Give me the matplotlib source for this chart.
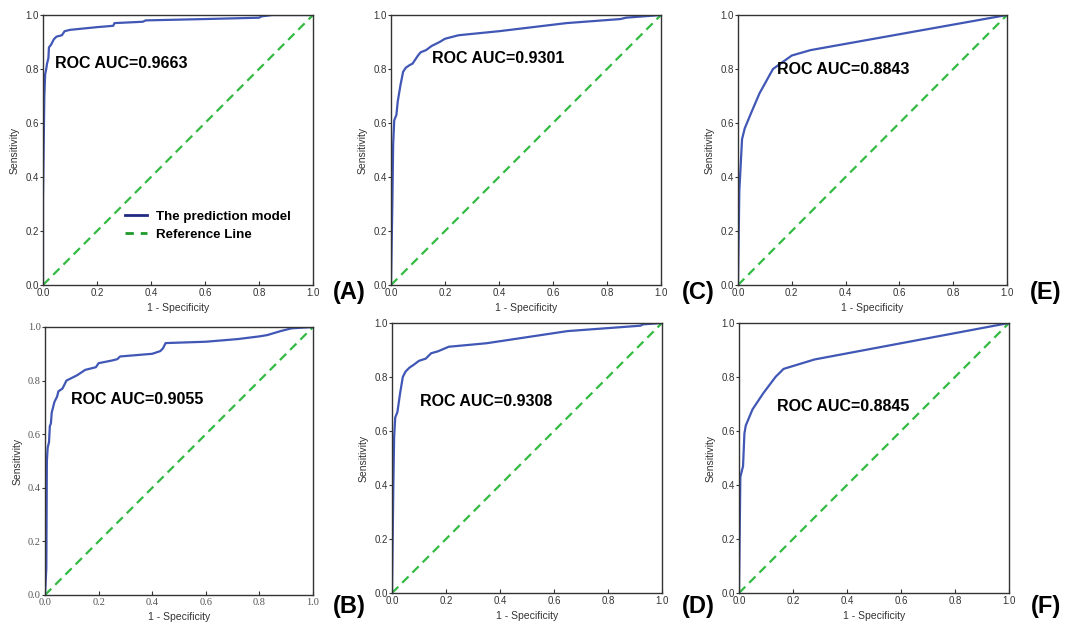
"""
ROC curves, 2 x 3 panels
"""

import matplotlib
matplotlib.use('Agg')
import matplotlib.pyplot as plt
from matplotlib.lines import Line2D

plt.rcParams['font.family'] = ['Liberation Sans', 'DejaVu Sans']

# panel (A)
fpr_a = [0, 0, 0.003, 0.005, 0.008, 0.012, 0.015, 0.02, 0.022, 0.03, 0.04, 0.05, 0.07,
         0.08, 0.1, 0.15, 0.2, 0.26, 0.265, 0.37, 0.38, 0.6, 0.8, 0.81, 0.85, 1.0]
tpr_a = [0, 0.32, 0.55, 0.70, 0.78, 0.80, 0.82, 0.84, 0.88, 0.89, 0.91, 0.92, 0.925,
         0.94, 0.945, 0.95, 0.955, 0.96, 0.97, 0.975, 0.98, 0.985, 0.99, 0.995, 1.0, 1.0]
# panel (B)
fpr_b = [0, 0.005, 0.007, 0.01, 0.015, 0.018, 0.022, 0.025, 0.03, 0.035, 0.045, 0.05,
         0.065, 0.075, 0.08, 0.1, 0.12, 0.15, 0.19, 0.2, 0.25, 0.27, 0.28, 0.4, 0.43,
         0.44, 0.45, 0.6, 0.72, 0.8, 0.83, 0.88, 0.92, 1.0]
tpr_b = [0, 0.10, 0.50, 0.55, 0.57, 0.63, 0.64, 0.68, 0.70, 0.72, 0.74, 0.76,
         0.77, 0.79, 0.80, 0.81, 0.82, 0.84, 0.85, 0.865, 0.875, 0.88, 0.89, 0.90, 0.91,
         0.92, 0.94, 0.945, 0.955, 0.965, 0.97, 0.985, 0.995, 1.0]
# panel (C)
fpr_c = [0, 0.005, 0.008, 0.012, 0.02, 0.025, 0.035, 0.045, 0.055, 0.07, 0.08, 0.1,
         0.11, 0.13, 0.15, 0.18, 0.2, 0.25, 0.4, 0.65, 0.85, 0.87, 1.0]
tpr_c = [0, 0.30, 0.52, 0.61, 0.63, 0.68, 0.74, 0.79, 0.805, 0.815, 0.82, 0.85,
         0.862, 0.87, 0.885, 0.90, 0.912, 0.925, 0.94, 0.97, 0.985, 0.99, 1.0]
# panel (D)
fpr_d = [0, 0.005, 0.008, 0.012, 0.02, 0.03, 0.04, 0.05, 0.065, 0.08, 0.1, 0.125,
         0.145, 0.17, 0.21, 0.35, 0.45, 0.65, 0.92, 0.93, 1.0]
tpr_d = [0, 0.40, 0.58, 0.65, 0.67, 0.74, 0.80, 0.82, 0.835, 0.845, 0.86, 0.868,
         0.888, 0.895, 0.912, 0.925, 0.94, 0.97, 0.99, 0.995, 1.0]
# panel (E)
fpr_e = [0, 0.005, 0.015, 0.025, 0.05, 0.08, 0.13, 0.2, 0.27, 1.0]
tpr_e = [0, 0.35, 0.54, 0.58, 0.64, 0.71, 0.80, 0.85, 0.87, 1.0]
# panel (F)
fpr_f = [0, 0.005, 0.01, 0.015, 0.02, 0.025, 0.05, 0.09, 0.135, 0.165, 0.28, 1.0]
tpr_f = [0, 0.43, 0.45, 0.47, 0.59, 0.62, 0.68, 0.74, 0.80, 0.83, 0.865, 1.0]

auc_txt = ['ROC AUC=0.9663', 'ROC AUC=0.9301', 'ROC AUC=0.8843',
           'ROC AUC=0.9055', 'ROC AUC=0.9308', 'ROC AUC=0.8845']
letters = ['(A)', '(C)', '(E)', '(B)', '(D)', '(F)']
ticks = [0.0, 0.2, 0.4, 0.6, 0.8, 1.0]
tick_lbl = ['0.0', '0.2', '0.4', '0.6', '0.8', '1.0']

curves = [(fpr_a, tpr_a), (fpr_c, tpr_c), (fpr_e, tpr_e),
          (fpr_b, tpr_b), (fpr_d, tpr_d), (fpr_f, tpr_f)]

W, H = 1067, 625
# axes boxes in pixels: left, top, right, bottom
boxes = [(43, 15, 313, 285), (391, 15, 661, 285), (738, 15, 1007, 285),
         (45, 327, 313, 595), (392, 323, 662, 593), (739, 323, 1009, 593)]
text_pos = [(0.045, 0.82), (0.152, 0.84), (0.145, 0.80),
            (0.097, 0.73), (0.104, 0.71), (0.14, 0.69)]
letter_pos = [(333, 292), (682, 292), (1030, 292), (333, 607), (682, 607), (1031, 607)]

blue = '#4157b5'
green = '#33bb44'

fig = plt.figure(figsize=(W / 100, H / 100), dpi=100)

for i in range(6):
    l, t, r, b = boxes[i]
    ax = fig.add_axes([l / W, 1 - b / H, (r - l) / W, (b - t) / H])
    fpr, tpr = curves[i]
    ax.plot([0, 1], [0, 1], '--', color=green, lw=1.6, dashes=(4, 2.5))
    ax.plot(fpr, tpr, color=blue, lw=1.6)
    ax.set_xlim(0, 1)
    ax.set_ylim(0, 1)
    ax.set_xticks(ticks)
    ax.set_yticks(ticks)
    serif = (i == 3)  # bottom-left panel has serif tick labels
    tfont = {'family': 'Liberation Serif', 'size': 7.5, 'color': '#555555'} if serif \
        else {'size': 7, 'color': '#333333'}
    ax.set_xticklabels(tick_lbl, **tfont)
    ax.set_yticklabels(tick_lbl, **tfont)
    ax.tick_params(axis='x', direction='in', length=3, width=0.8, pad=2, color='#333333')
    ax.tick_params(axis='y', direction='out', length=2, width=0.8, pad=1, color='#333333')
    for s in ax.spines.values():
        s.set_color('#333333')
        s.set_linewidth(1.0)
    ax.set_xlabel('1 - Specificity', fontsize=7.5, color='#333333', labelpad=4)
    ax.set_ylabel('Sensitivity', fontsize=7.5, color='#333333', labelpad=4)
    ax.text(text_pos[i][0], text_pos[i][1], auc_txt[i], transform=ax.transAxes,
            fontsize=11.5, fontweight='bold', va='center', ha='left')
    if i == 0:
        handles = [Line2D([], [], color='#1f2a80', lw=2),
                   Line2D([], [], color='#1c9a2a', lw=2, ls='--', dashes=(3, 2.5))]
        ax.legend(handles, ['The prediction model', 'Reference Line'],
                  loc='lower left', bbox_to_anchor=(0.26, 0.12), frameon=False,
                  prop={'weight': 'bold', 'size': 9.6}, handlelength=1.6,
                  handletextpad=0.7, labelspacing=0.4)
    fig.text(letter_pos[i][0] / W, 1 - letter_pos[i][1] / H, letters[i],
             fontsize=17, fontweight='bold', ha='left', va='center')

fig.savefig('out.png', dpi=100)
